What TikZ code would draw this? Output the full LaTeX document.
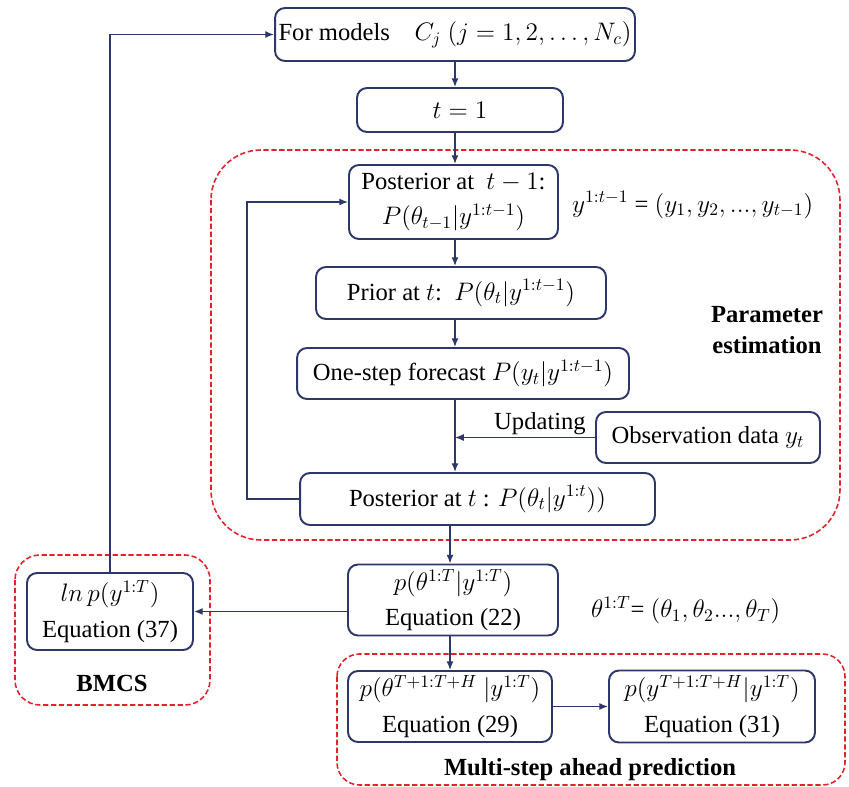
\documentclass[tikz,border=0pt]{standalone}
\usepackage{amsmath, amssymb}
\usepackage{fontspec}
\setmainfont{Liberation Serif}
\newfontfamily\flowfont{Liberation Serif}
\usepackage{tikz}
\usepackage{xcolor}
\usetikzlibrary{positioning, arrows.meta}
\definecolor{fcnavy}{RGB}{45, 55, 105}
\definecolor{fcred}{RGB}{225, 35, 45}
\tikzset{
    flownode/.style={draw=fcnavy, line width=1.1pt, rounded corners=0.2cm, align=center,
        inner sep=2pt, font=\flowfont\fontsize{14}{20}\selectfont},
    arr/.style={draw=fcnavy, line width=0.8pt, -{Latex[length=5pt, width=4pt]}},
    groupbox/.style={draw=fcred, line width=0.9pt, dash pattern=on 3pt off 1.5pt},
    grouplabel/.style={align=center, font=\flowfont\fontsize{14}{18}\selectfont\bfseries},
    eqlabel/.style={font=\flowfont\fontsize{14}{20}\selectfont}
}

\begin{document}
\begin{tikzpicture}[x=0.02cm, y=-0.02cm]
    \useasboundingbox (0,0) rectangle (849,787);
    % dashed groups
    \draw[groupbox, rounded corners=1cm] (211,150) rectangle (840,540);
    \draw[groupbox, rounded corners=0.5cm] (15,555) rectangle (210,705);
    \draw[groupbox, rounded corners=0.45cm] (337,654) rectangle (845,785);
    % boxes
    \node[flownode, minimum width=7.08cm, minimum height=1.06cm] (models) at (455,34.5) {For models\quad $C_j\ (j=1,2,\ldots,N_c)$};
    \node[flownode, minimum width=4.12cm, minimum height=0.88cm] (tone) at (460,110) {$t=1$};
    \node[flownode, minimum width=4.18cm, minimum height=1.48cm] (postprev) at (453.5,202) {Posterior at\ \ $t-1$:\\$P(\theta_{t-1}|y^{1:t-1})$};
    \node[flownode, minimum width=5.8cm, minimum height=1.04cm] (prior) at (461,293) {Prior at $t$:\ \ $P(\theta_t|y^{1:t-1})$};
    \node[flownode, minimum width=6.64cm, minimum height=1.02cm] (onestep) at (463,373.5) {One-step forecast $P(y_t|y^{1:t-1})$};
    \node[flownode, minimum width=4.48cm, minimum height=1.02cm] (obs) at (708,437.5) {Observation data $y_t$};
    \node[flownode, minimum width=7.1cm, minimum height=1.04cm] (postt) at (477.5,499) {Posterior at $t$ : $P(\theta_t|y^{1:t}))$};
    \node[flownode, minimum width=4.2cm, minimum height=1.42cm] (ptheta) at (453,600) {$p(\theta^{1:T}|y^{1:T})$\\Equation (22)};
    \node[flownode, minimum width=3.32cm, minimum height=1.54cm] (lnp) at (110,611.5) {$ln\,p(y^{1:T})$\\Equation (37)};
    \node[flownode, minimum width=4.08cm, minimum height=1.42cm] (pthetaH) at (450,706.5) {$p(\theta^{T+1:T+H}\ |y^{1:T})$\\Equation (29)};
    \node[flownode, minimum width=4.12cm, minimum height=1.44cm] (pyH) at (712,706.5) {$p(y^{T+1:T+H}|y^{1:T})$\\Equation (31)};
    % side texts
    \node[eqlabel, anchor=west] (ydef) at (566,205) {$y^{1:t-1}$ = $(y_1, y_2,..., y_{t-1})$};
    \node[eqlabel, anchor=west] (thetadef) at (585,610) {$\theta^{1:T}$= $(\theta_1, \theta_2..., \theta_T)$};
    \node[eqlabel] (upd) at (540,424) {Updating};
    \node[grouplabel] (pelabel) at (767,330) {Parameter\\estimation};
    \node[grouplabel] (bmcslabel) at (112,683) {BMCS};
    \node[grouplabel] (msplabel) at (590,770) {Multi-step ahead prediction};
    % connectors
    \coordinate (loopc) at (247,499);
    \draw[arr] (models.south) -- (models.south |- tone.north);
    \draw[arr] (models.south |- tone.south) -- (models.south |- postprev.north);
    \draw[arr] (models.south |- postprev.south) -- (models.south |- prior.north);
    \draw[arr] (models.south |- prior.south) -- (models.south |- onestep.north);
    \draw[arr] (models.south |- onestep.south) -- (models.south |- postt.north);
    \draw[arr] (obs.west) -- (obs.west -| models.south);
    \draw[arr] (postt.west) -- (loopc) |- (postprev.west);
    \draw[arr] (pthetaH.north |- postt.south) -- (pthetaH.north |- ptheta.north);
    \draw[arr] (pthetaH.north |- ptheta.south) -- (pthetaH.north);
    \draw[arr] (ptheta.west |- lnp.east) -- (lnp.east);
    \draw[arr] (lnp.north) |- (models.west);
    \draw[arr] (pthetaH.east) -- (pthetaH.east -| pyH.west);
\end{tikzpicture}
\end{document}
